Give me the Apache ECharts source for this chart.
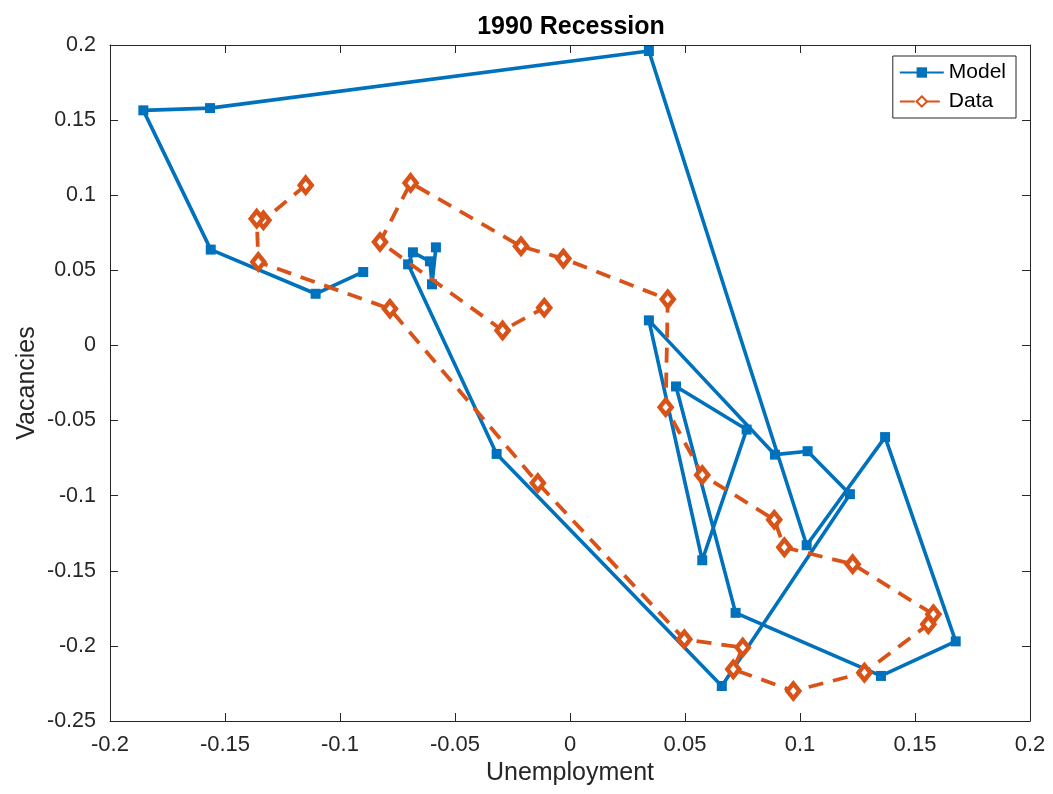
<!DOCTYPE html>
<html>
<head>
<meta charset="utf-8">
<script src="https://cdn.jsdelivr.net/npm/echarts@6/dist/echarts.min.js"></script>
<style>
  html, body { margin: 0; padding: 0; background: #fff; }
  #chart { width: 1053px; height: 794px; }
</style>
</head>
<body>
<div id="chart"></div>
<script>
// Model path (unemployment, vacancies), in plotting order
var modelX = [-0.0899, -0.1106, -0.1562, -0.1855, -0.1565, 0.0343, 0.1029, 0.1370, 0.1677, 0.1352,
              0.0720, 0.0461, 0.0768, 0.0575, 0.0343, 0.0891, 0.1033, 0.1217, 0.0660, -0.0319,
              -0.0704, -0.0683, -0.0609, -0.0600, -0.0583];
var modelY = [0.0489, 0.0344, 0.0638, 0.1565, 0.1580, 0.1960, -0.1330, -0.0610, -0.1970, -0.2200,
              -0.1780, -0.0273, -0.0560, -0.1430, 0.0167, -0.0727, -0.0704, -0.0990, -0.2267, -0.0722,
              0.0540, 0.0620, 0.0560, 0.0407, 0.0653];

// Data path
var dataX = [-0.1149, -0.1333, -0.1362, -0.1355, -0.0783, -0.0140, 0.0497, 0.0751, 0.0710, 0.0971,
             0.1280, 0.1558, 0.1580, 0.1229, 0.0932, 0.0888, 0.0575, 0.0416, 0.0425, -0.0029,
             -0.0213, -0.0693, -0.0826, -0.0293, -0.0112];
var dataY = [0.1067, 0.0833, 0.0844, 0.0556, 0.0244, -0.0916, -0.1956, -0.2011, -0.2156, -0.2300,
             -0.2178, -0.1856, -0.1790, -0.1456, -0.1344, -0.1160, -0.0862, -0.0411, 0.0307, 0.0578,
             0.0660, 0.1082, 0.0689, 0.0100, 0.0251];

var xTicks = { min: -0.2, max: 0.2, step: 0.05 };
var yTicks = { min: -0.25, max: 0.2, step: 0.05 };

function pairs(xs, ys) {
    var out = [];
    for (var i = 0; i < xs.length; i++) out.push([xs[i], ys[i]]);
    return out;
}
function fmt(v) { return String(parseFloat(v.toFixed(2))); }

var axisColor = '#262626';
var font = 'Liberation Sans, Arial, sans-serif';

function mkAxis(pos, t, opts) {
    var a = {
        type: 'value',
        position: pos,
        min: t.min, max: t.max, interval: t.step,
        splitLine: { show: false },
        axisLine: { show: true, onZero: false, lineStyle: { color: axisColor, width: 1 } },
        axisTick: { show: true, inside: true, length: 8, lineStyle: { color: axisColor } },
        axisLabel: { show: false }
    };
    for (var k in opts) a[k] = opts[k];
    return a;
}

var option = {
    animation: false,
    backgroundColor: '#fff',
    title: {
        text: '1990 Recession',
        left: 566, top: 10, textAlign: 'center',
        textStyle: { fontFamily: font, fontSize: 25, fontWeight: 'bold', color: '#000' }
    },
    grid: { left: 110, right: 23, top: 45, bottom: 73 },
    legend: {
        orient: 'vertical',
        right: 37, top: 56,
        padding: [6, 10, 6, 6],
        itemGap: 8,
        itemWidth: 44, itemHeight: 13,
        backgroundColor: '#fff',
        borderColor: axisColor, borderWidth: 1,
        textStyle: { fontFamily: font, fontSize: 21, color: '#000' },
        data: ['Model', 'Data']
    },
    xAxis: [
        mkAxis('bottom', xTicks, {
            name: 'Unemployment', nameLocation: 'middle', nameGap: 40, nameMoveOverlap: false,
            nameTextStyle: { fontFamily: font, fontSize: 25, color: axisColor },
            axisLabel: { show: true, margin: 13, color: axisColor, fontFamily: font, fontSize: 22, formatter: fmt }
        }),
        mkAxis('top', xTicks, {})
    ],
    yAxis: [
        mkAxis('left', yTicks, {
            name: 'Vacancies', nameLocation: 'middle', nameGap: 70, nameRotate: 90, nameMoveOverlap: false,
            nameTextStyle: { fontFamily: font, fontSize: 25, color: axisColor },
            axisLabel: { show: true, margin: 14, color: axisColor, fontFamily: font, fontSize: 21.5, formatter: fmt }
        }),
        mkAxis('right', yTicks, {})
    ],
    series: [
        {
            name: 'Model',
            type: 'line',
            data: pairs(modelX, modelY),
            symbol: 'rect', symbolSize: 10,
            lineStyle: { color: '#0072BD', width: 3.6 },
            itemStyle: { color: '#0072BD' },
            z: 2
        },
        {
            name: 'Data',
            type: 'line',
            data: pairs(dataX, dataY),
            symbol: 'diamond', symbolSize: [12, 15],
            lineStyle: { color: '#D95319', width: 3.8, type: [15, 10] },
            itemStyle: { color: '#fff', borderColor: '#D95319', borderWidth: 4.5 },
            z: 3
        }
    ]
};

var myChart = echarts.init(document.getElementById('chart'));
myChart.setOption(option);
</script>
</body>
</html>
